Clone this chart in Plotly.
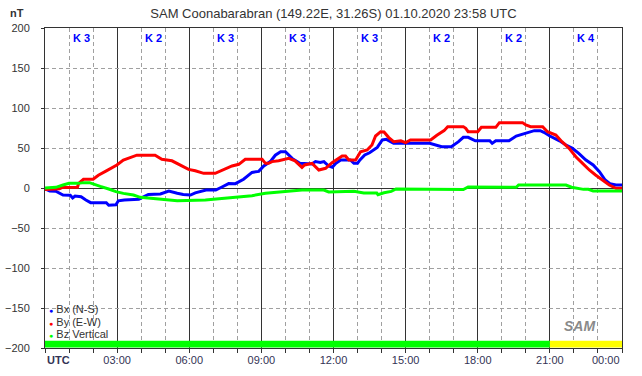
import plotly.graph_objects as go

# ---------------- data ----------------
title_text = "SAM Coonabarabran (149.22E, 31.26S) 01.10.2020 23:58 UTC"

bx_hours = [0, 0.2, 0.45, 0.6, 0.75, 1.05, 1.15, 1.25, 1.5, 1.7, 1.9, 2.55, 2.65, 2.95, 3.05,
            3.3, 3.9, 4.1, 4.3, 4.8, 5.0, 5.15, 5.5, 5.75, 6.05, 6.25, 6.7, 7.1, 7.36, 7.64,
            7.92, 8.26, 8.61, 8.89, 9.1, 9.37, 9.58, 9.8, 10.0, 10.28, 10.6, 11.1, 11.25, 11.45,
            11.6, 11.8, 11.95, 12.1, 12.3, 12.7, 12.85, 13.0, 13.1, 13.3, 13.5, 13.82, 14.03,
            14.2, 14.5, 16.0, 16.5, 16.9, 17.2, 17.4, 17.6, 17.9, 18.5, 18.6, 18.75, 19.3, 19.6,
            20.0, 20.35, 20.6, 20.75, 21.0, 21.4, 21.67, 21.94, 22.2, 22.5, 22.8, 23.06, 23.3,
            23.5, 23.75, 24.0]
bx_values = [-1, -3.75, -4, -6, -8.75, -9, -12.5, -10, -11, -15, -18.3, -18.5, -21.5, -21, -16,
             -15, -14, -11, -8, -7.5, -5, -3.75, -6.5, -8, -8.75, -6, -2.5, -2.5, 1.25, 5.5,
             5.4, 11, 19.5, 20.8, 27.5, 33, 41, 45.4, 45.4, 37, 31, 30, 33, 32,
             33, 27.5, 25.8, 30.8, 35, 35, 30.8, 30.8, 35, 41.25, 44, 50.8, 60,
             60.8, 55.8, 55.8, 51.7, 51.7, 57.9, 63.3, 63.3, 59, 59, 55.8, 59, 59, 65,
             68.3, 71.7, 71.7, 69.6, 65, 59, 53.75, 49.6, 43.3, 35, 28.75, 20.4, 10,
             5.5, 3.75, 3.75]

by_hours = [0, 0.6, 0.7, 1.35, 1.4, 1.6, 2.0, 2.22, 2.57, 2.99, 3.26, 3.68, 3.82, 4.58, 4.86,
            5.28, 5.62, 5.97, 6.25, 6.6, 7.08, 7.36, 7.78, 8.06, 8.33, 9.03, 9.17, 9.3, 9.44,
            9.72, 10.0, 10.14, 10.4, 10.69, 10.8, 11.11, 11.39, 11.67, 11.94, 12.15, 12.36,
            12.5, 12.64, 12.92, 13.125, 13.4, 13.6, 13.75, 13.96, 14.1, 14.3, 14.5, 14.8, 15.0,
            15.2, 16.04, 16.3, 16.6, 16.75, 17.4, 17.5, 17.6, 18.0, 18.15, 18.75, 18.9, 19.86,
            20.0, 20.2, 20.7, 20.9, 21.25, 21.5, 21.8, 22.08, 22.36, 22.64, 22.9, 23.2, 23.47,
            23.75, 24.0]
by_values = [-2, -1, 0.5, 1, 5.8, 10.8, 11, 16, 21.7, 28.7, 35, 40, 41, 41, 36,
             34, 28.7, 23.3, 21.5, 18.3, 18.3, 21.7, 27.5, 29.6, 35.8, 35.8, 30.8, 30.8, 33,
             34, 36, 37, 34, 25.8, 28.75, 30.8, 22.5, 24.6, 31.7, 35.8, 40,
             40, 35, 35, 45.4, 47.5, 53.75, 65, 70.4, 70, 63, 57.9, 59, 56.7,
             60, 60, 66, 71.7, 76.7, 76.7, 74.6, 70.4, 70.4, 75.8, 75.8, 81.7, 81.7,
             78.75, 76.7, 76.7, 70.4, 66.25, 57.9, 49.6, 39, 30.8, 22.5, 16.25, 10, 3.75,
             -0.4, -0.4]

bz_hours = [0, 0.45, 0.75, 1.0, 1.4, 1.6, 1.85, 2.05, 2.3, 2.65, 2.95, 3.26, 3.68, 3.96, 5.07,
            5.5, 6.67, 7.5, 8.61, 9.17, 10.0, 10.69, 11.6, 11.8, 12.85, 13.26, 13.8, 13.85,
            14.1, 14.4, 14.6, 16.0, 16.5, 17.4, 17.6, 19.6, 19.7, 21.67, 21.9, 22.4, 22.6,
            22.8, 24.0]
bz_values = [0, 0.8, 3.75, 5.8, 5.8, 6.7, 6.7, 5, 2, -1.25, -4.6, -6.7, -8.75, -11.7, -14.2,
             -15.8, -15, -12.9, -9.6, -6.7, -4.6, -2.5, -2.5, -5, -4.2, -6.25, -6.25, -8.3,
             -6, -4.2, -1.25, -1.25, -2, -2, 1.25, 0.8, 3.75, 3.75, 1, -1.7, -1.7,
             -3.75, -3.75]

series_names = ["Bx (N-S)", "By (E-W)", "Bz Vertical"]
series_colors = ["#0000ff", "#ff0000", "#00ff00"]

k_index = [3, 2, 3, 3, 3, 2, 2, 4]          # one per 3-hour interval
status_start = [0, 21]                      # status bar segments (hours)
status_end = [21, 24]
status_colors = ["#00ff00", "#ffff00"]

x_tickvals = [0, 3, 6, 9, 12, 15, 18, 21, 24]
x_ticktext = ["UTC", "03:00", "06:00", "09:00", "12:00", "15:00", "18:00", "21:00", "00:00"]
y_tickvals = [-200, -150, -100, -50, 0, 50, 100, 150, 200]

# ---------------- figure ----------------
FONT = "Liberation Sans, Arial, sans-serif"
fig = go.Figure()
for hrs, vals, name, col in zip([bx_hours, by_hours, bz_hours],
                                [bx_values, by_values, bz_values],
                                series_names, series_colors):
    fig.add_trace(go.Scatter(x=hrs, y=vals, mode="lines", name=name,
                             line=dict(color=col, width=3), showlegend=False))

shapes = []
for s, e, c in zip(status_start, status_end, status_colors):
    shapes.append(dict(type="rect", xref="x", yref="y", x0=s, x1=e, y0=-199.4, y1=-191,
                       fillcolor=c, line=dict(width=0), layer="above"))

annotations = []
for i, k in enumerate(k_index):
    annotations.append(dict(x=i * 3 + 1.5, y=0.97, xref="x", yref="paper",
                            text=f"<b>K {k}</b>", showarrow=False,
                            font=dict(family=FONT, size=11, color="#0000ff"),
                            xanchor="center", yanchor="middle"))

# legend (compact, as in the reference)
leg_y = [-151, -167, -183]
for name, col, yy in zip(series_names, series_colors, leg_y):
    annotations.append(dict(x=0.0, y=yy, xref="x", yref="y", xshift=2,
                            text=f"<span style='color:{col};font-size:7px'>●</span> {name}",
                            showarrow=False, xanchor="left", yanchor="middle",
                            font=dict(family=FONT, size=11, color="#333333")))

# first / last time labels sit flush with the plot edges
annotations.append(dict(x=x_tickvals[0], y=-0.0375, xref="x", yref="paper",
                        text=f"<b>{x_ticktext[0]}</b>", showarrow=False,
                        xanchor="left", yanchor="middle",
                        font=dict(family=FONT, size=11, color="#333355")))
annotations.append(dict(x=x_tickvals[-1], y=-0.0375, xref="x", yref="paper",
                        text=x_ticktext[-1], showarrow=False,
                        xanchor="right", yanchor="middle",
                        font=dict(family=FONT, size=11, color="#333355")))

annotations.append(dict(x=-0.049, y=1.047, xref="paper", yref="paper", text="<b>nT</b>",
                        showarrow=False, xanchor="center", yanchor="middle",
                        font=dict(family=FONT, size=11, color="#333333")))
annotations.append(dict(x=0.927, y=0.07, xref="paper", yref="paper", text="<b><i>SAM</i></b>",
                        showarrow=False, xanchor="center", yanchor="middle",
                        font=dict(family=FONT, size=14, color="#8a8a8a")))

fig.update_layout(
    width=642, height=376,
    margin=dict(l=45, r=20, t=28, b=28, autoexpand=False),
    paper_bgcolor="white", plot_bgcolor="white",
    title=dict(text=title_text, x=0.5, xref="paper", y=0.963, yanchor="middle",
               font=dict(family=FONT, size=13, color="#333333")),
    shapes=shapes, annotations=annotations,
    font=dict(family=FONT, size=11, color="#333333"),
    showlegend=False,
)

fig.update_xaxes(
    range=[0, 24], tickmode="array", tickvals=x_tickvals,
    ticktext=[""] + x_ticktext[1:-1] + [""],
    automargin=False,
    showgrid=True, gridcolor="#333333", gridwidth=1,
    ticks="outside", ticklen=4, tickcolor="#333333", ticklabelstandoff=-2,
    showline=True, linecolor="#333333", linewidth=1, mirror=True,
    zeroline=False, tickfont=dict(family=FONT, size=11, color="#333355"),
    minor=dict(tickvals=[h for h in range(25) if h % 3], showgrid=True, griddash="4px,3px",
               gridcolor="#a0a0a0", gridwidth=1, ticks="outside", ticklen=4, tickcolor="#333333"),
)
fig.update_yaxes(
    range=[-200, 200], tickmode="array", tickvals=y_tickvals,
    automargin=False,
    showgrid=True, gridcolor="#a0a0a0", griddash="4px,3px", gridwidth=1,
    ticks="outside", ticklen=3, tickcolor="#333333", ticklabelstandoff=9,
    showline=True, linecolor="#333333", linewidth=1, mirror=True,
    zeroline=True, zerolinecolor="#333333", zerolinewidth=1,
    tickfont=dict(family=FONT, size=11, color="#333333"),
)

# remove the browser's default 8px page margin so the 642x376 figure fills the window
fig.write_html("out.html", config={"displayModeBar": False},
               post_script="document.body.style.margin='0';")
